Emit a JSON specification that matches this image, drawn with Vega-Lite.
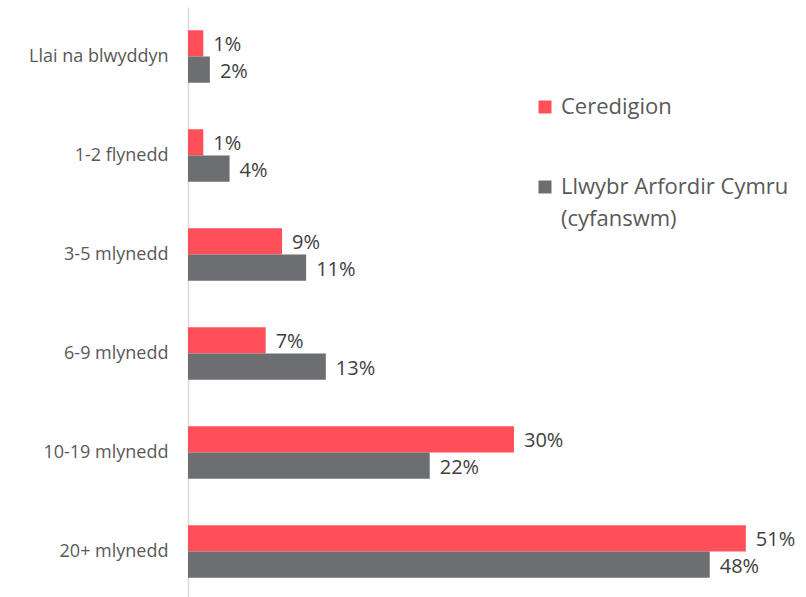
{
  "$schema": "https://vega.github.io/schema/vega-lite/v6.json",
  "autosize": "none",
  "width": 618,
  "height": 594,
  "padding": {"left": 188, "top": 7, "right": 0, "bottom": 0},
  "background": "white",
  "config": {"view": {"stroke": null}, "font": "Open Sans"},
  "data": {"values": [
    {"cat": "Llai na blwyddyn", "series": "Ceredigion", "value": 0.014},
    {"cat": "Llai na blwyddyn", "series": "Llwybr Arfordir Cymru (cyfanswm)", "value": 0.020},
    {"cat": "1-2 flynedd", "series": "Ceredigion", "value": 0.014},
    {"cat": "1-2 flynedd", "series": "Llwybr Arfordir Cymru (cyfanswm)", "value": 0.038},
    {"cat": "3-5 mlynedd", "series": "Ceredigion", "value": 0.086},
    {"cat": "3-5 mlynedd", "series": "Llwybr Arfordir Cymru (cyfanswm)", "value": 0.108},
    {"cat": "6-9 mlynedd", "series": "Ceredigion", "value": 0.071},
    {"cat": "6-9 mlynedd", "series": "Llwybr Arfordir Cymru (cyfanswm)", "value": 0.126},
    {"cat": "10-19 mlynedd", "series": "Ceredigion", "value": 0.298},
    {"cat": "10-19 mlynedd", "series": "Llwybr Arfordir Cymru (cyfanswm)", "value": 0.221},
    {"cat": "20+ mlynedd", "series": "Ceredigion", "value": 0.51},
    {"cat": "20+ mlynedd", "series": "Llwybr Arfordir Cymru (cyfanswm)", "value": 0.477}
  ]},
  "encoding": {
    "y": {"field": "cat", "type": "nominal", "sort": null,
      "scale": {"paddingInner": 0.47, "paddingOuter": 0.235},
      "axis": {"title": null, "domain": true, "domainColor": "#d9d9d9", "domainWidth": 1.5, "ticks": false,
        "labelFontSize": 18, "labelColor": "#595959", "labelPadding": 20}},
    "x": {"field": "value", "type": "quantitative",
      "scale": {"domain": [0, 0.565], "nice": false},
      "axis": null},
    "yOffset": {"field": "series", "type": "nominal", "sort": ["Ceredigion", "Llwybr Arfordir Cymru (cyfanswm)"]}
  },
  "layer": [
    {"mark": {"type": "bar"},
     "encoding": {
       "color": {"field": "series", "type": "nominal",
         "scale": {"domain": ["Ceredigion", "Llwybr Arfordir Cymru (cyfanswm)"], "range": ["#FF505A", "#6D6E71"]},
         "legend": {"title": null, "orient": "none", "legendX": 346, "legendY": 89,
           "symbolType": "square", "symbolSize": 169, "symbolStrokeWidth": 0,
           "labelFontSize": 22, "labelColor": "#595959", "labelLimit": 400, "rowPadding": 58, "labelOffset": 5,
           "labelExpr": "datum.label == 'Ceredigion' ? datum.label : ['Llwybr Arfordir Cymru', '(cyfanswm)']",
           "encode": {"labels": {"update": {"lineHeight": {"value": 32}, "baseline": {"value": "top"}, "dy": {"value": -10}}}}}}
     }},
    {"mark": {"type": "text", "align": "left", "dx": 10, "dy": 2, "fontSize": 20, "color": "#404040"},
     "encoding": {"text": {"field": "value", "type": "quantitative", "format": ".0%"}}}
  ]
}
